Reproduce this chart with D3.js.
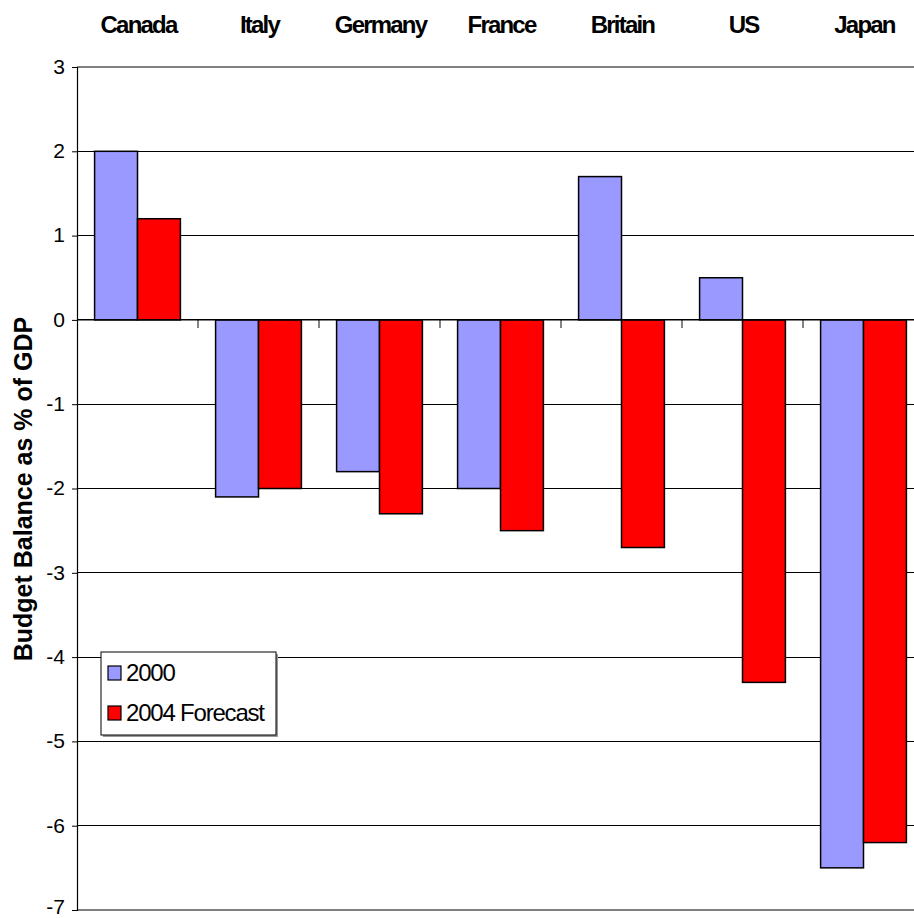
<!DOCTYPE html>
<html>
<head>
<meta charset="utf-8">
<script src="https://cdn.jsdelivr.net/npm/d3@7"></script>
<style>
  body { margin: 0; background: #fff; }
  svg { display: block; font-family: "Liberation Sans", Arial, sans-serif; }
</style>
</head>
<body>
<script>
var countries = ['Canada', 'Italy', 'Germany', 'France', 'Britain', 'US', 'Japan'];
var series = ['2000', '2004 Forecast'];
var vals2000 = [2.0, -2.1, -1.8, -2.0, 1.7, 0.5, -6.5];
var vals2004 = [1.2, -2.0, -2.3, -2.5, -2.7, -4.3, -6.2];
var yTicks = [3, 2, 1, 0, -1, -2, -3, -4, -5, -6, -7];
var colors = ['#9999FF', '#FF0000'];

var width = 914, height = 918;
// plot area runs past the right edge of the picture
var plotLeft = 77, plotRight = 924, plotTop = 67, plotBottom = 910;

var svg = d3.select('body').append('svg')
  .attr('width', width)
  .attr('height', height);

var x = d3.scaleBand().domain(countries).range([plotLeft, plotRight]).paddingInner(0).paddingOuter(0);
var xs = d3.scaleBand().domain(series).range([0, x.bandwidth()]).paddingInner(0).paddingOuter(0.41);
var y = d3.scaleLinear().domain([-7, 3]).range([plotBottom, plotTop]);

// gridlines
svg.append('g').selectAll('line')
  .data(yTicks.filter(function (d) { return d != 3 && d != -7; }))
  .join('line')
  .attr('x1', plotLeft).attr('x2', width)
  .attr('y1', function (d) { return y(d); })
  .attr('y2', function (d) { return y(d); })
  .attr('stroke', '#000').attr('stroke-width', 1)
  .attr('shape-rendering', 'crispEdges');

// top and bottom border (gray)
[3, -7].forEach(function (v) {
  svg.append('line')
    .attr('x1', plotLeft).attr('x2', width)
    .attr('y1', y(v)).attr('y2', y(v))
    .attr('stroke', '#808080').attr('stroke-width', 2);
});

// y axis
var yAxis = svg.append('g')
  .attr('transform', 'translate(' + plotLeft + ',0)')
  .call(d3.axisLeft(y).tickValues(yTicks).tickSize(5).tickPadding(7)
    .tickFormat(function (d) { return String(d); }));
yAxis.select('.domain').attr('stroke', '#000').attr('stroke-width', 1.2);
yAxis.selectAll('.tick line').attr('stroke', '#000');
yAxis.selectAll('text')
  .attr('font-size', 21)
  .attr('font-family', '"Liberation Sans", Arial, sans-serif')
  .attr('fill', '#000')
  .attr('dy', function (d) { return d == -7 ? '0.18em' : '0.3em'; });

// bars
var groups = svg.append('g').selectAll('g')
  .data(countries)
  .join('g')
  .attr('transform', function (d) { return 'translate(' + x(d) + ',0)'; });

groups.selectAll('rect')
  .data(function (d, i) {
    return [
      { s: series[0], v: vals2000[i] },
      { s: series[1], v: vals2004[i] }
    ];
  })
  .join('rect')
  .attr('x', function (d) { return xs(d.s); })
  .attr('width', xs.bandwidth())
  .attr('y', function (d) { return y(Math.max(0, d.v)); })
  .attr('height', function (d) { return Math.abs(y(d.v) - y(0)); })
  .attr('fill', function (d, i) { return colors[i]; })
  .attr('stroke', '#000')
  .attr('stroke-width', 1.5);

// category ticks along zero line
svg.append('g').selectAll('line')
  .data(countries.slice(1))
  .join('line')
  .attr('x1', function (d) { return x(d); })
  .attr('x2', function (d) { return x(d); })
  .attr('y1', y(0)).attr('y2', y(0) + 8)
  .attr('stroke', '#333').attr('stroke-width', 1.2);

// zero line on top
svg.append('line')
  .attr('x1', plotLeft).attr('x2', width)
  .attr('y1', y(0)).attr('y2', y(0))
  .attr('stroke', '#000').attr('stroke-width', 1.2);

// category labels at the top
svg.append('g').selectAll('text')
  .data(countries)
  .join('text')
  .attr('x', function (d) { return x(d) + x.bandwidth() / 2 + 1; })
  .attr('y', 33)
  .attr('text-anchor', 'middle')
  .attr('font-size', 24)
  .attr('font-weight', 'bold')
  .attr('letter-spacing', -1.8)
  .text(function (d) { return d; });

// y axis title
svg.append('text')
  .attr('transform', 'translate(32,489) rotate(-90)')
  .attr('text-anchor', 'middle')
  .attr('font-size', 25)
  .attr('font-weight', 'bold')
  .text('Budget Balance as % of GDP');

// legend
var legend = svg.append('g').attr('transform', 'translate(101,652)');
legend.append('rect')
  .attr('x', 2).attr('y', 2)
  .attr('width', 175).attr('height', 83)
  .attr('fill', '#999');
legend.append('rect')
  .attr('width', 175).attr('height', 83)
  .attr('fill', '#fff').attr('stroke', '#000').attr('stroke-width', 1);
var items = legend.selectAll('g')
  .data(series)
  .join('g')
  .attr('transform', function (d, i) { return 'translate(7,' + (14 + i * 40) + ')'; });
items.append('rect')
  .attr('width', 13).attr('height', 14)
  .attr('fill', function (d, i) { return colors[i]; })
  .attr('stroke', '#000').attr('stroke-width', 1.2);
items.append('text')
  .attr('x', 18).attr('y', 7)
  .attr('dy', '0.35em')
  .attr('font-size', 24)
  .attr('letter-spacing', -1.2)
  .text(function (d) { return d; });
</script>
</body>
</html>
